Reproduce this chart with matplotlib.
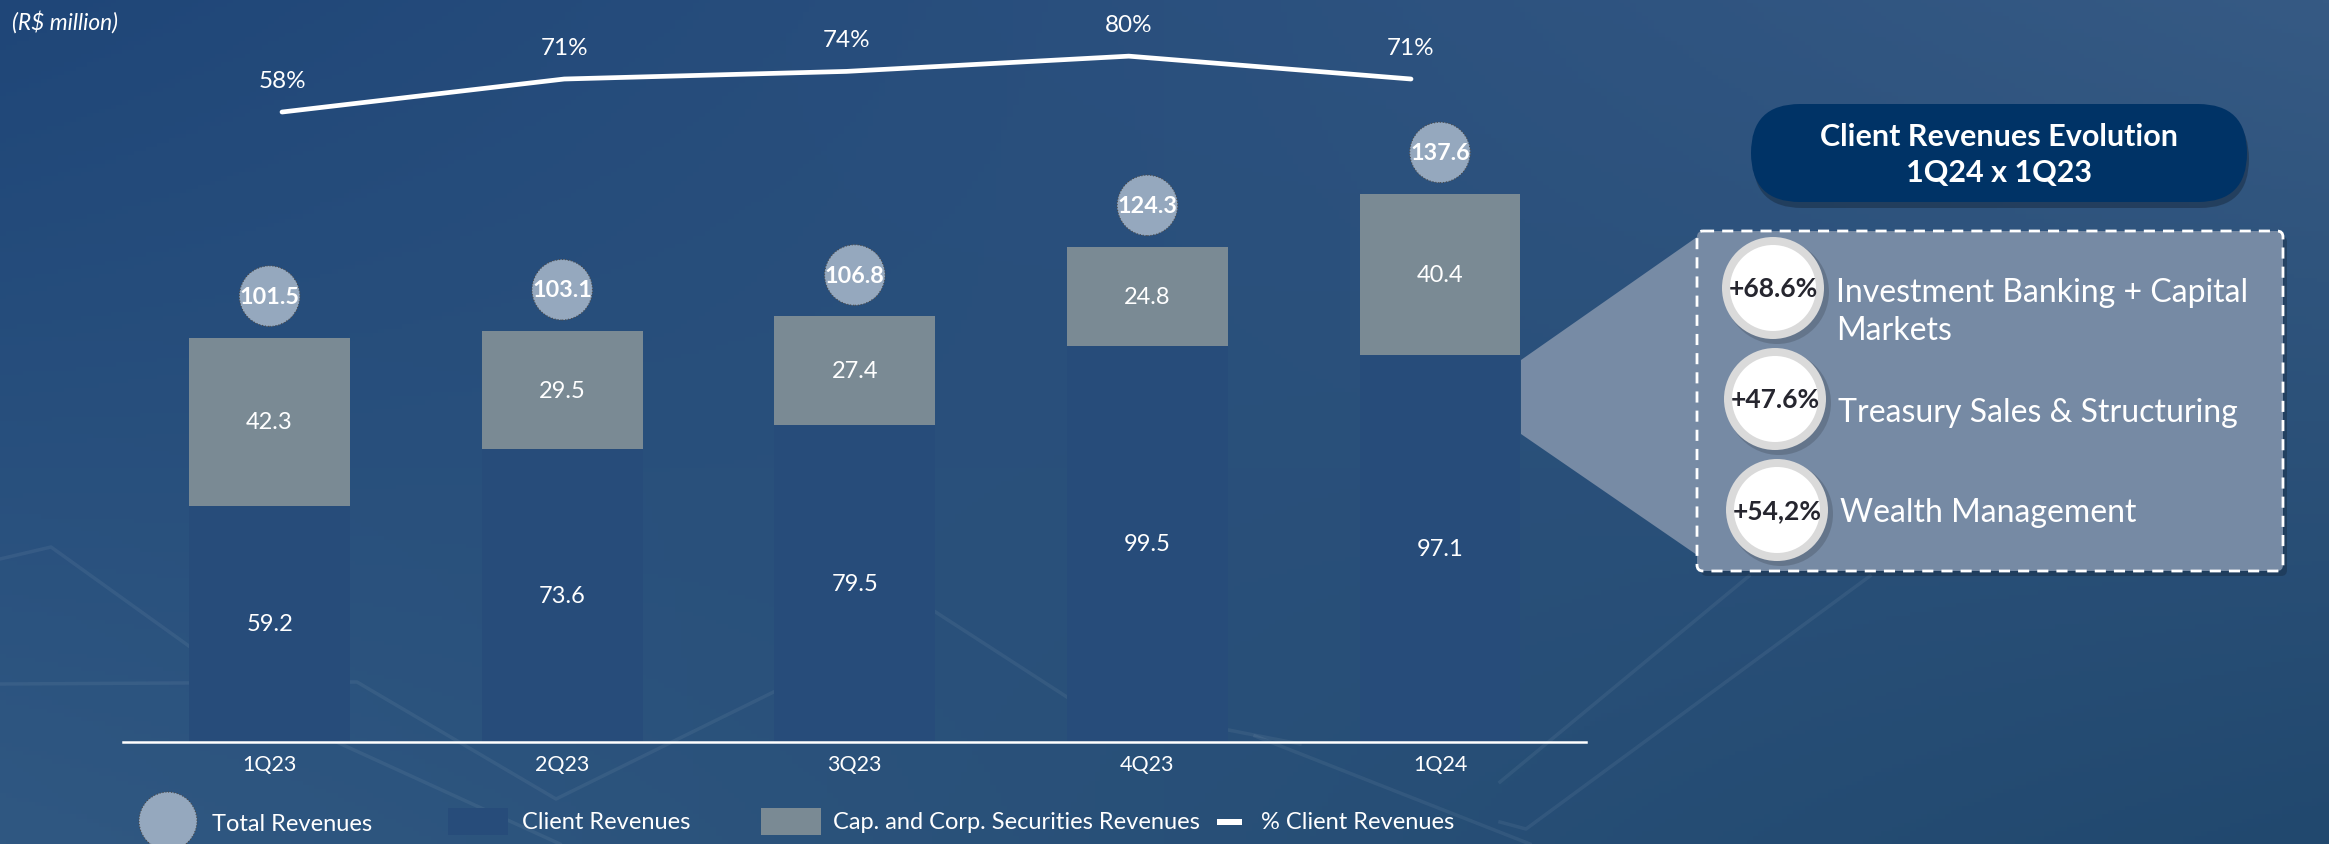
import numpy as np
import matplotlib.pyplot as plt
from matplotlib.patches import FancyBboxPatch, Circle, Polygon, Rectangle

plt.rcParams['font.family'] = ['Lato', 'DejaVu Sans']

# dados (R$ milhões)
quarters = ['1Q23', '2Q23', '3Q23', '4Q23', '1Q24']
client = [59.2, 73.6, 79.5, 99.5, 97.1]
cap_corp = [42.3, 29.5, 27.4, 24.8, 40.4]
total = [101.5, 103.1, 106.8, 124.3, 137.6]
pct_client = [58, 71, 74, 80, 71]

growth = ['+68.6%', '+47.6%', '+54,2%']
areas = [['Investment Banking + Capital', 'Markets'],
         ['Treasury Sales & Structuring'],
         ['Wealth Management']]

c_client = '#274C7A'
c_cap = '#7A8A94'
c_total = '#95A8BE'

W, H = 2329, 845
fig = plt.figure(figsize=(W / 100, H / 100), dpi=100)

# fundo com gradiente
bg = fig.add_axes([0, 0, 1, 1], zorder=0)
yy, xx = np.mgrid[0:1:200j, 0:1:400j]
xx = xx[..., None]
yy = yy[..., None]
tl = np.array([31, 70, 120])
tr = np.array([54, 90, 132])
bl = np.array([48, 88, 130])
br = np.array([33, 72, 110])
img = (tl * (1 - xx) * (1 - yy) + tr * xx * (1 - yy) + bl * (1 - xx) * yy + br * xx * yy) / 255
bg.imshow(img, extent=[0, W, H, 0], aspect='auto')
# linhas decorativas
deco = [[(0, 560), (51, 548), (200, 655)],
        [(0, 685), (357, 683), (556, 800), (800, 680)],
        [(330, 740), (560, 845)],
        [(900, 590), (1070, 700), (1300, 745)],
        [(1255, 737), (1530, 845)],
        [(1749, 577), (1500, 783)],
        [(1870, 577), (1526, 830), (1500, 823)]]
for pl in deco:
    px, py = zip(*pl)
    bg.plot(px, py, color='white', alpha=0.06, lw=2.5)
bg.set_xlim(0, W)
bg.set_ylim(H, 0)
bg.axis('off')

# barras
ax = fig.add_axes([123.3 / W, 1 - 742.7 / H, 1463 / W, 742.7 / H], zorder=1)
ax.patch.set_alpha(0)
x = np.arange(len(quarters))
ax.bar(x, client, 0.55, color=c_client)
ax.bar(x, cap_corp, 0.55, bottom=client, color=c_cap)
for i in range(len(x)):
    ax.text(x[i], client[i] / 2, f'{client[i]:.1f}', ha='center', va='center',
            color='white', fontsize=17)
    ax.text(x[i], client[i] + cap_corp[i] / 2, f'{cap_corp[i]:.1f}', ha='center',
            va='center', color='white', fontsize=17)
# total em circulos
ytot = np.array(total) + 10.45
ax.scatter(x, ytot, s=1900, color=c_total, edgecolor='#4a4a4a', linewidth=0.8,
           linestyle=':', zorder=3, clip_on=False)
for i in range(len(x)):
    ax.text(x[i], ytot[i], f'{total[i]:.1f}', ha='center', va='center',
            color='white', fontsize=16.8, fontweight='bold', zorder=4)
ax.set_xlim(-0.5, 4.5)
ax.set_ylim(0, 186.6)
ax.set_xticks(x)
ax.set_xticklabels(quarters, fontsize=15.5, color='white')
ax.tick_params(axis='x', length=0, pad=9)
ax.set_yticks([])
for s in ['top', 'right', 'left']:
    ax.spines[s].set_visible(False)
ax.spines['bottom'].set_color('white')
ax.spines['bottom'].set_linewidth(1.8)

# linha % client revenues
ax2 = fig.add_axes([123.3 / W, 1 - 742.7 / H, 1463 / W, 742.7 / H], zorder=2)
ax2.patch.set_alpha(0)
ax2.plot(x, pct_client, color='white', lw=3.4, solid_capstyle='round')
for i in range(len(x)):
    ax2.annotate(f'{pct_client[i]}%', (x[i], pct_client[i]), xytext=(0, 23),
                 textcoords='offset points', ha='center', va='center',
                 color='white', fontsize=17.5)
ax2.set_xlim(-0.5623, 4.621)
ax2.set_ylim(-189.9, 102.5)
ax2.axis('off')

# camada de cima em pixels
ov = fig.add_axes([0, 0, 1, 1], zorder=3)
ov.set_xlim(0, W)
ov.set_ylim(H, 0)
ov.axis('off')

ov.text(12, 22, '(R$ million)', fontsize=16.4, style='italic', color='white',
        ha='left', va='center')

# conector
ov.add_patch(Polygon([(1521, 361), (1697, 238), (1697, 556), (1521, 435)],
                     closed=True, color='#778BA5', lw=0))
# caixa tracejada
ov.add_patch(FancyBboxPatch((1701, 237), 586, 340, boxstyle='round,pad=0,rounding_size=6',
                            fc='black', ec='none', alpha=0.2))
ov.add_patch(FancyBboxPatch((1697, 232), 586, 340, boxstyle='round,pad=0,rounding_size=6',
                            fc='#768AA4', ec='white', lw=2, ls=(0, (4, 2.9))))
circ_y = [289, 400, 511]
text_y = [[293, 331], [413], [513]]
for i in range(3):
    cx = 1773 + 2 * i
    ov.add_patch(Circle((cx + 4, circ_y[i] + 4), 52, fc='black', alpha=0.15, lw=0))
    ov.add_patch(Circle((cx, circ_y[i]), 51, fc='#DADADA', lw=0))
    ov.add_patch(Circle((cx, circ_y[i]), 43, fc='white', lw=0))
    ov.text(cx, circ_y[i], growth[i], ha='center', va='center', fontsize=19,
            fontweight='bold', color='#26262f')
    for ln, ty in zip(areas[i], text_y[i]):
        ov.text(1836 + 2 * i, ty, ln, ha='left', va='center', fontsize=23, color='white')

# titulo em pilula
ov.add_patch(FancyBboxPatch((1753, 111), 496, 98, boxstyle='round,pad=0,rounding_size=49',
                            fc='black', ec='none', alpha=0.25))
ov.add_patch(FancyBboxPatch((1751, 105), 496, 98, boxstyle='round,pad=0,rounding_size=49',
                            fc='#003366', ec='none'))
ov.text(1999, 137, 'Client Revenues Evolution', ha='center', va='center',
        fontsize=22, fontweight='bold', color='white')
ov.text(1999, 173, '1Q24 x 1Q23', ha='center', va='center',
        fontsize=22, fontweight='bold', color='white')

# legenda
ov.add_patch(Circle((168, 822), 29, fc=c_total, ec='#4a4a4a', lw=0.8, ls=':'))
ov.text(212, 825, 'Total Revenues', ha='left', va='center', fontsize=17, color='white')
ov.add_patch(Rectangle((448, 809), 60, 27, fc=c_client, lw=0))
ov.text(522, 823, 'Client Revenues', ha='left', va='center', fontsize=17, color='white')
ov.add_patch(Rectangle((761, 809), 60, 27, fc=c_cap, lw=0))
ov.text(833, 823, 'Cap. and Corp. Securities Revenues', ha='left', va='center',
        fontsize=17, color='white')
ov.add_patch(Rectangle((1217, 820), 25, 6, fc='white', lw=0))
ov.text(1261, 823, '% Client Revenues', ha='left', va='center', fontsize=17, color='white')

fig.savefig('out.png', dpi=100)
